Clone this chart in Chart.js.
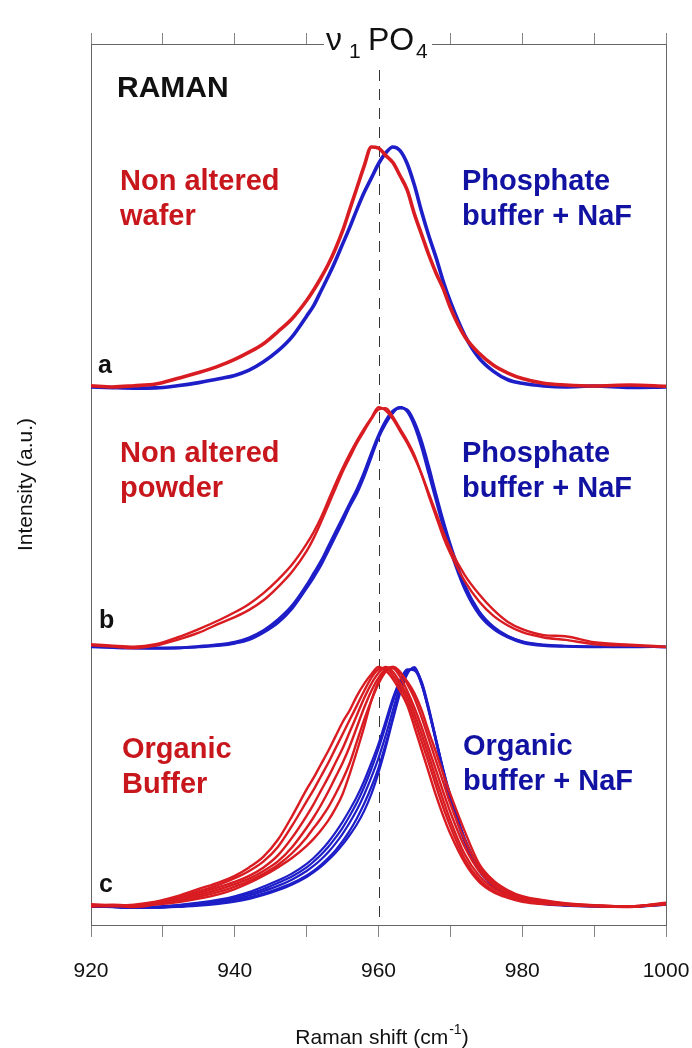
<!DOCTYPE html>
<html>
<head>
<meta charset="utf-8">
<title>Raman v1 PO4</title>
<script src="https://cdn.jsdelivr.net/npm/chart.js@4.4.1/dist/chart.umd.min.js"></script>
<style>
  html, body { margin: 0; padding: 0; background: #fff; }
  #wrap { width: 692px; height: 1048px; }
</style>
</head>
<body>
<div id="wrap"><canvas id="raman" width="692" height="1048"></canvas></div>
<script>
// Raman shift grid (cm-1), denser around the v1 band
const shift = [920, 923, 926, 929, 932, 935, 938, 940, 942, 944, 946, 948, 950, 951, 952, 953, 954, 955, 956, 957, 958, 959, 960, 961, 962, 963, 964, 965, 966, 967, 968, 969, 970, 972, 974, 976, 978, 980, 983, 986, 990, 995, 1000];

// normalised intensities, panel a (wafer)
const aRed = [.005, 0, .005, .012, .035, .06, .09, .115, .145, .18, .23, .285, .36, .405, .455, .51, .575, .65, .74, .83, .92, 1.0, .995, .965, .935, .88, .82, .72, .635, .55, .475, .41, .33, .21, .14, .09, .058, .035, .015, .008, .004, .008, .003];
const aBlue = [0, -.003, -.005, -.004, .005, .018, .035, .048, .07, .105, .15, .21, .295, .34, .4, .46, .525, .595, .665, .74, .81, .87, .93, .975, 1.0, .985, .93, .84, .73, .63, .54, .44, .355, .215, .12, .065, .03, .015, .004, 0, .004, -.002, 0];

// panel b (powder)
const bRed1 = [.008, .002, -.004, .006, .03, .06, .1, .125, .155, .195, .25, .315, .4, .455, .52, .59, .66, .73, .79, .85, .9, .95, .99, .995, .96, .91, .86, .8, .72, .63, .545, .46, .39, .275, .19, .13, .09, .062, .04, .03, .012, .006, 0];
const bRed2 = [.012, .006, .002, .012, .04, .075, .115, .145, .18, .225, .28, .345, .43, .48, .54, .61, .68, .745, .805, .86, .91, .955, 1.0, .985, .95, .9, .85, .79, .72, .64, .56, .48, .41, .3, .22, .155, .105, .075, .05, .045, .02, .01, .002];
const bBlue1 = [.002, 0, -.004, -.006, -.005, 0, .006, .015, .03, .06, .1, .16, .245, .29, .34, .4, .46, .52, .585, .64, .71, .79, .87, .93, .975, 1.0, .98, .92, .83, .72, .61, .5, .4, .24, .135, .075, .04, .018, .005, .002, 0, .002, 0];
const bBlue2 = [0, -.003, -.005, -.004, -.002, .004, .012, .022, .04, .07, .115, .175, .26, .31, .36, .42, .48, .54, .6, .66, .73, .81, .885, .945, .985, 1.0, .985, .93, .845, .74, .63, .52, .42, .255, .145, .08, .045, .022, .008, .004, .002, 0, .002];
const bBlue3 = [.003, .001, -.002, -.003, -.004, .001, .008, .018, .035, .065, .105, .165, .25, .3, .35, .41, .47, .53, .59, .65, .72, .8, .875, .935, .98, .995, .99, .94, .86, .755, .64, .53, .43, .26, .15, .085, .046, .024, .01, .005, .002, .003, 0];

// panel c (organic buffer)
const cRed1 = [.012, .006, .01, .022, .045, .075, .105, .13, .165, .21, .28, .38, .49, .54, .595, .65, .71, .77, .82, .88, .93, .97, 1.0, .985, .95, .9, .84, .75, .655, .56, .465, .38, .305, .185, .105, .062, .038, .022, .012, .008, .003, 0, .015];
const cRed2 = [.008, .01, .006, .02, .04, .065, .095, .12, .15, .19, .25, .34, .44, .49, .545, .6, .66, .72, .78, .84, .9, .955, .99, .995, .965, .92, .86, .78, .69, .6, .505, .415, .335, .2, .115, .068, .042, .026, .014, .01, .004, .002, .018];
const cRed3 = [.01, .004, .008, .016, .035, .058, .085, .105, .13, .165, .215, .29, .38, .43, .485, .54, .6, .66, .73, .8, .87, .93, .975, 1.0, .98, .935, .88, .805, .72, .63, .535, .445, .36, .22, .13, .078, .048, .03, .016, .01, .005, .002, .016];
const cRed4 = [.006, .008, .004, .014, .03, .05, .075, .095, .118, .15, .19, .25, .33, .375, .425, .48, .54, .6, .67, .75, .83, .9, .955, .99, .995, .96, .9, .83, .75, .66, .57, .48, .395, .25, .15, .09, .055, .034, .02, .012, .006, .002, .014];
const cRed5 = [.004, .006, .002, .012, .025, .042, .065, .085, .108, .138, .175, .225, .29, .33, .37, .415, .47, .53, .6, .69, .78, .86, .93, .98, 1.0, .98, .93, .87, .79, .7, .61, .52, .43, .28, .165, .1, .062, .04, .024, .014, .006, .002, .012];
const cRed6 = [.002, .004, 0, .01, .02, .035, .055, .075, .1, .13, .165, .205, .255, .285, .32, .36, .41, .47, .555, .65, .75, .86, .94, .99, 1.0, .975, .94, .89, .82, .73, .645, .555, .47, .315, .18, .11, .07, .045, .028, .016, .008, .003, .01];
const cBlue1 = [.003, 0, -.002, .002, .008, .018, .032, .045, .062, .085, .11, .14, .18, .205, .235, .27, .31, .355, .405, .46, .525, .6, .68, .775, .87, .945, .99, .985, .93, .82, .69, .56, .445, .27, .15, .085, .048, .028, .012, .006, .002, 0, .01];
const cBlue2 = [0, .002, -.003, 0, .006, .015, .028, .04, .055, .075, .1, .128, .165, .19, .218, .25, .288, .33, .38, .435, .5, .575, .66, .755, .855, .935, .985, .99, .94, .83, .7, .57, .455, .275, .155, .088, .05, .03, .014, .008, .003, .001, .012];
const cBlue3 = [.002, -.001, -.004, -.002, .004, .012, .023, .034, .048, .066, .088, .115, .15, .172, .198, .228, .264, .305, .352, .405, .468, .54, .62, .715, .82, .92, .985, .99, .925, .815, .69, .565, .455, .28, .158, .09, .052, .03, .014, .008, .004, .002, .012];
const cBlue4 = [0, .001, -.003, -.003, .002, .009, .018, .028, .04, .056, .076, .1, .132, .152, .176, .204, .236, .274, .318, .37, .43, .5, .58, .68, .79, .9, .975, .995, .93, .82, .695, .57, .46, .285, .16, .09, .052, .03, .014, .008, .004, .002, .012];
const cBlue5 = [.001, 0, -.002, -.003, 0, .006, .014, .022, .034, .05, .07, .094, .125, .145, .168, .195, .225, .26, .3, .345, .4, .47, .56, .665, .78, .89, .97, 1.0, .935, .825, .7, .575, .465, .285, .165, .092, .054, .032, .015, .008, .004, .002, .012];

// vertical stacking of the three spectra
const offsetA = 2.167;
const offsetB = 1.083;
const offsetC = 0;

const RED = '#d81c22';
const BLUE = '#1e1ec8';
const FONT = "'Liberation Sans', Arial, sans-serif";

function serie(values, offset, color, width) {
    return {
        data: values.map((v, i) => ({ x: shift[i], y: v + offset })),
        borderColor: color,
        borderWidth: width,
        pointRadius: 0,
        fill: false,
        cubicInterpolationMode: 'monotone'
    };
}

// red first so it sits on top of the blue traces
const datasets = [
    serie(aRed, offsetA, RED, 3.6),
    serie(bRed1, offsetB, RED, 2.4),
    serie(bRed2, offsetB, RED, 2.4),
    serie(cRed1, offsetC, RED, 2.4),
    serie(cRed2, offsetC, RED, 2.4),
    serie(cRed3, offsetC, RED, 2.4),
    serie(cRed4, offsetC, RED, 2.4),
    serie(cRed5, offsetC, RED, 2.4),
    serie(cRed6, offsetC, RED, 2.4),
    serie(aBlue, offsetA, BLUE, 3.6),
    serie(bBlue1, offsetB, BLUE, 2.4),
    serie(bBlue2, offsetB, BLUE, 2.4),
    serie(bBlue3, offsetB, BLUE, 2.4),
    serie(cBlue1, offsetC, BLUE, 2.2),
    serie(cBlue2, offsetC, BLUE, 2.2),
    serie(cBlue3, offsetC, BLUE, 2.2),
    serie(cBlue4, offsetC, BLUE, 2.2),
    serie(cBlue5, offsetC, BLUE, 2.2)
];

function textLines(ctx, lines, x, y0, step, color, size) {
    ctx.fillStyle = color;
    ctx.font = 'bold ' + size + 'px ' + FONT;
    lines.forEach((t, i) => ctx.fillText(t, x, y0 + i * step));
}

const decor = {
    id: 'decor',
    beforeDatasetsDraw(chart) {
        const ctx = chart.ctx;
        const xp = chart.scales.x.getPixelForValue(960);
        ctx.save();
        ctx.strokeStyle = '#333';
        ctx.lineWidth = 1;
        ctx.setLineDash([11, 8]);
        ctx.beginPath();
        ctx.moveTo(Math.round(xp) + 0.5, 70);
        ctx.lineTo(Math.round(xp) + 0.5, chart.chartArea.bottom);
        ctx.stroke();
        ctx.restore();
    },
    afterDraw(chart) {
        const ctx = chart.ctx;
        ctx.save();
        ctx.textAlign = 'left';
        ctx.textBaseline = 'alphabetic';

        // band label sitting on the top axis
        ctx.fillStyle = '#fff';
        ctx.fillRect(324, 22, 108, 40);
        ctx.fillStyle = '#111';
        ctx.font = '32px ' + FONT;
        ctx.fillText('\u03BD', 326, 50);
        ctx.fillText('PO', 368, 50);
        ctx.font = '21px ' + FONT;
        ctx.fillText('1', 349, 58);
        ctx.fillText('4', 416, 58);

        textLines(ctx, ['RAMAN'], 117, 97, 0, '#111', 30);

        const redTxt = '#c8161d';
        const blueTxt = '#1212a2';
        textLines(ctx, ['Non altered', 'wafer'], 120, 190, 35, redTxt, 29);
        textLines(ctx, ['Phosphate', 'buffer + NaF'], 462, 190, 35, blueTxt, 29);
        textLines(ctx, ['Non altered', 'powder'], 120, 462, 35, redTxt, 29);
        textLines(ctx, ['Phosphate', 'buffer + NaF'], 462, 462, 35, blueTxt, 29);
        textLines(ctx, ['Organic', 'Buffer'], 122, 758, 35, redTxt, 29);
        textLines(ctx, ['Organic', 'buffer + NaF'], 463, 755, 35, blueTxt, 29);

        textLines(ctx, ['a'], 98, 373, 0, '#111', 25);
        textLines(ctx, ['b'], 99, 628, 0, '#111', 25);
        textLines(ctx, ['c'], 99, 892, 0, '#111', 25);

        // x axis title with superscript
        ctx.fillStyle = '#111';
        ctx.font = '21px ' + FONT;
        const main = 'Raman shift (cm';
        const wMain = ctx.measureText(main).width;
        const wClose = ctx.measureText(')').width;
        ctx.font = '14px ' + FONT;
        const wSup = ctx.measureText('-1').width;
        const cx = (chart.chartArea.left + chart.chartArea.right) / 2 + 3;
        const x0 = cx - (wMain + wSup + wClose) / 2;
        ctx.font = '21px ' + FONT;
        ctx.fillText(main, x0, 1044);
        ctx.fillText(')', x0 + wMain + wSup + 1, 1044);
        ctx.font = '14px ' + FONT;
        ctx.fillText('-1', x0 + wMain + 1, 1034);
        ctx.restore();
    }
};

const yMin = -0.075;
const yMax = 3.596;

new Chart(document.getElementById('raman'), {
    type: 'line',
    data: { datasets: datasets },
    options: {
        responsive: false,
        animation: false,
        devicePixelRatio: 1,
        layout: { padding: 0, autoPadding: false },
        plugins: {
            legend: { display: false },
            tooltip: { enabled: false }
        },
        scales: {
            x: {
                type: 'linear',
                position: 'bottom',
                min: 920,
                max: 1000,
                ticks: {
                    stepSize: 10,
                    autoSkip: false,
                    maxRotation: 0,
                    padding: 22,
                    color: '#111',
                    font: { family: FONT, size: 21 },
                    callback: v => (v % 20 === 0 ? v : '')
                },
                grid: { drawOnChartArea: false, tickLength: 12, color: '#858585' },
                border: { color: '#666', width: 1 },
                afterFit: s => { s.height = 123; s.paddingLeft = 0; s.paddingRight = 0; }
            },
            xTop: {
                type: 'linear',
                position: 'top',
                min: 920,
                max: 1000,
                ticks: { display: false, stepSize: 10 },
                grid: { drawOnChartArea: false, tickLength: 11, color: '#858585' },
                border: { color: '#666', width: 1 },
                afterFit: s => { s.height = 44; }
            },
            y: {
                position: 'left',
                min: yMin,
                max: yMax,
                ticks: { display: false },
                grid: { drawOnChartArea: false, drawTicks: false },
                border: { color: '#666', width: 1 },
                title: {
                    display: true,
                    text: 'Intensity (a.u.)',
                    color: '#111',
                    font: { family: FONT, size: 21 },
                    padding: { top: 14, bottom: 0 }
                },
                afterFit: s => { s.width = 91; }
            },
            yRight: {
                position: 'right',
                min: yMin,
                max: yMax,
                ticks: { display: false },
                grid: { drawOnChartArea: false, drawTicks: false },
                border: { color: '#666', width: 1 },
                afterFit: s => { s.width = 26; }
            }
        }
    },
    plugins: [decor]
});
</script>
</body>
</html>
